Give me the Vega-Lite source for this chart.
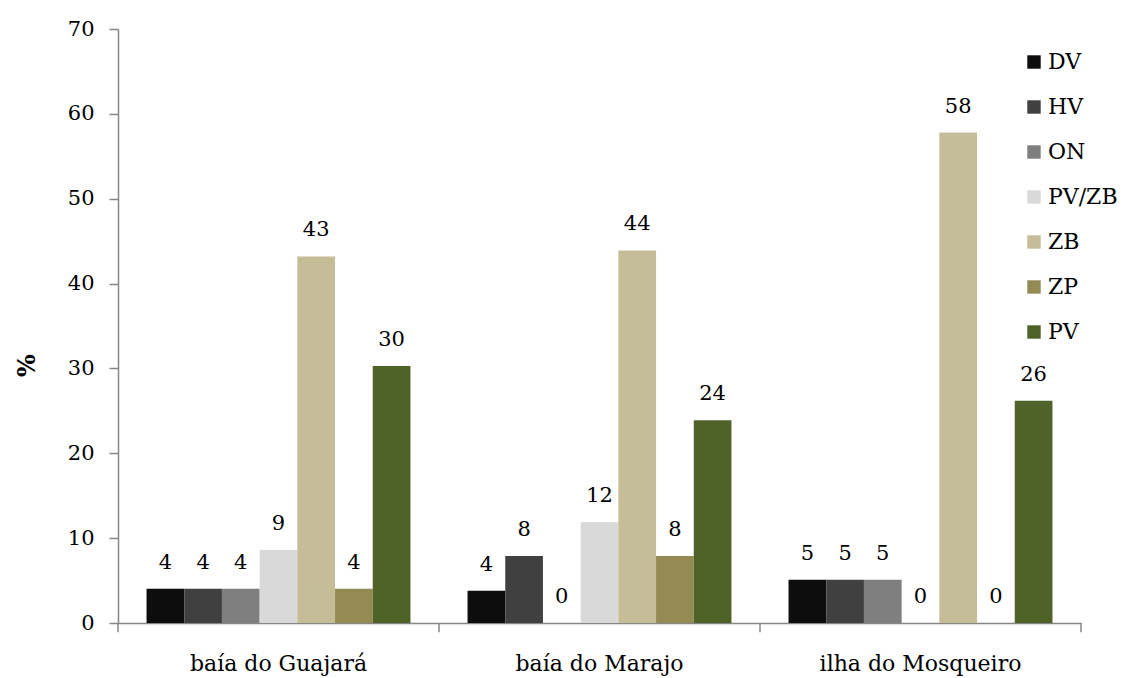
{
  "$schema": "https://vega.github.io/schema/vega-lite/v6.json",
  "autosize": "none",
  "width": 963,
  "height": 594,
  "padding": {"left": 118, "top": 29, "right": 42, "bottom": 55},
  "background": "white",
  "config": {
    "font": "DejaVu Serif",
    "view": {"stroke": null},
    "axis": {"labelFont": "DejaVu Serif", "titleFont": "DejaVu Serif", "labelColor": "#000000", "titleColor": "#000000"},
    "legend": {"labelFont": "DejaVu Serif"}
  },
  "datasets": {
    "main": [
      {"site": "baía do Guajará", "cat": "DV", "value": 4.05},
      {"site": "baía do Guajará", "cat": "HV", "value": 4.05},
      {"site": "baía do Guajará", "cat": "ON", "value": 4.05},
      {"site": "baía do Guajará", "cat": "PV/ZB", "value": 8.6},
      {"site": "baía do Guajará", "cat": "ZB", "value": 43.2},
      {"site": "baía do Guajará", "cat": "ZP", "value": 4.05},
      {"site": "baía do Guajará", "cat": "PV", "value": 30.3},
      {"site": "baía do Marajo", "cat": "DV", "value": 3.8},
      {"site": "baía do Marajo", "cat": "HV", "value": 7.9},
      {"site": "baía do Marajo", "cat": "ON", "value": 0},
      {"site": "baía do Marajo", "cat": "PV/ZB", "value": 11.9},
      {"site": "baía do Marajo", "cat": "ZB", "value": 43.9},
      {"site": "baía do Marajo", "cat": "ZP", "value": 7.9},
      {"site": "baía do Marajo", "cat": "PV", "value": 23.9},
      {"site": "ilha do Mosqueiro", "cat": "DV", "value": 5.1},
      {"site": "ilha do Mosqueiro", "cat": "HV", "value": 5.1},
      {"site": "ilha do Mosqueiro", "cat": "ON", "value": 5.1},
      {"site": "ilha do Mosqueiro", "cat": "PV/ZB", "value": 0},
      {"site": "ilha do Mosqueiro", "cat": "ZB", "value": 57.8},
      {"site": "ilha do Mosqueiro", "cat": "ZP", "value": 0},
      {"site": "ilha do Mosqueiro", "cat": "PV", "value": 26.2}
    ],
    "sites": [
      {"site": "baía do Guajará"},
      {"site": "baía do Marajo"},
      {"site": "ilha do Mosqueiro"}
    ],
    "lastsite": [
      {"site": "ilha do Mosqueiro"}
    ]
  },
  "layer": [
    {
      "data": {"name": "main"},
      "mark": {"type": "bar"},
      "encoding": {
        "x": {
          "field": "site", "type": "nominal",
          "sort": ["baía do Guajará", "baía do Marajo", "ilha do Mosqueiro"],
          "scale": {"paddingInner": 0, "paddingOuter": 0},
          "axis": {
            "title": null, "labelAngle": 0, "ticks": false, "tickSize": 0, "domain": true,
            "domainColor": "#868686", "domainWidth": 1.5,
            "labelFontSize": 22, "labelPadding": 30, "labelLimit": 0
          }
        },
        "xOffset": {
          "field": "cat", "type": "nominal",
          "sort": ["DV", "HV", "ON", "PV/ZB", "ZB", "ZP", "PV"],
          "scale": {"paddingInner": 0, "paddingOuter": 0.757}
        },
        "y": {
          "field": "value", "type": "quantitative",
          "scale": {"domain": [0, 70], "nice": false},
          "axis": {
            "title": "%", "titleAngle": -90, "titleFontSize": 24, "titleFontWeight": "bold",
            "titleX": -91, "titleY": 336, "titleAlign": "center", "titleBaseline": "middle",
            "values": [0, 10, 20, 30, 40, 50, 60, 70],
            "grid": false, "domainColor": "#868686", "domainWidth": 1.5,
            "tickColor": "#868686", "tickWidth": 1.5, "tickSize": 9,
            "labelFontSize": 21, "labelPadding": 15
          }
        },
        "color": {
          "field": "cat", "type": "nominal",
          "sort": ["DV", "HV", "ON", "PV/ZB", "ZB", "ZP", "PV"],
          "scale": {
            "domain": ["DV", "HV", "ON", "PV/ZB", "ZB", "ZP", "PV"],
            "range": ["#0d0d0d", "#404040", "#7f7f7f", "#d9d9d9", "#c4bd97", "#948a54", "#4f6228"]
          },
          "legend": {
            "title": null, "orient": "none", "legendX": 905, "legendY": 22,
            "symbolType": "square", "symbolSize": 180, "symbolStrokeWidth": 0,
            "labelFontSize": 22, "labelColor": "#000000", "labelLimit": 0,
            "labelOffset": 3, "rowPadding": 23, "padding": 0
          }
        }
      }
    },
    {
      "data": {"name": "main"},
      "mark": {"type": "text", "baseline": "alphabetic", "dy": -20, "fontSize": 21, "color": "#000000", "font": "DejaVu Serif"},
      "encoding": {
        "x": {"field": "site", "type": "nominal", "sort": ["baía do Guajará", "baía do Marajo", "ilha do Mosqueiro"]},
        "xOffset": {"field": "cat", "type": "nominal", "sort": ["DV", "HV", "ON", "PV/ZB", "ZB", "ZP", "PV"]},
        "y": {"field": "value", "type": "quantitative"},
        "text": {"field": "value", "type": "quantitative", "format": ".0f"}
      }
    },
    {
      "data": {"name": "sites"},
      "mark": {"type": "rule", "color": "#868686", "strokeWidth": 1.5},
      "encoding": {
        "x": {"field": "site", "type": "nominal", "bandPosition": 0, "sort": ["baía do Guajará", "baía do Marajo", "ilha do Mosqueiro"]},
        "y": {"datum": 0},
        "y2": {"datum": -1.1}
      }
    },
    {
      "data": {"name": "lastsite"},
      "mark": {"type": "rule", "color": "#868686", "strokeWidth": 1.5},
      "encoding": {
        "x": {"field": "site", "type": "nominal", "bandPosition": 1, "sort": ["baía do Guajará", "baía do Marajo", "ilha do Mosqueiro"]},
        "y": {"datum": 0},
        "y2": {"datum": -1.1}
      }
    }
  ]
}
